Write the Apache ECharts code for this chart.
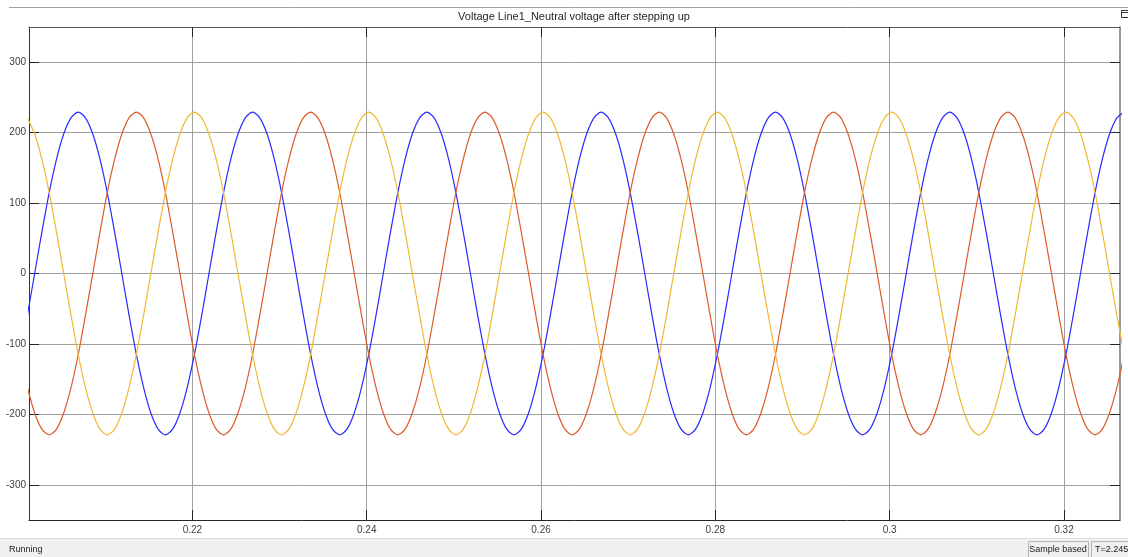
<!DOCTYPE html>
<html>
<head>
<meta charset="utf-8">
<script src="https://cdn.jsdelivr.net/npm/echarts@6/dist/echarts.min.js"></script>
<style>
html,body{margin:0;padding:0;background:#fff;}
#chart{width:1128px;height:557px;}
</style>
</head>
<body>
<div id="chart"></div>
<script>
// ---- data ----
const titleText = 'Voltage Line1_Neutral voltage after stepping up';
const xTicks = [0.22, 0.24, 0.26, 0.28, 0.3, 0.32];
const yTicks = [-300, -200, -100, 0, 100, 200, 300];

const time = [
0.20107,0.20190,0.20273,0.20357,0.20440,0.20523,0.20607,
0.20690,0.20773,0.20857,0.20940,0.21023,0.21107,0.21190,0.21273,0.21357,0.21440,0.21523,0.21607,0.21690,0.21773,0.21857,0.21940,0.22023,0.22107,0.22190,0.22273,0.22357,0.22440,0.22523,0.22607,
0.22690,0.22773,0.22857,0.22940,0.23023,0.23107,0.23190,0.23273,0.23357,0.23440,0.23523,0.23607,0.23690,0.23773,0.23857,0.23940,0.24023,0.24107,0.24190,0.24273,0.24357,0.24440,0.24523,0.24607,
0.24690,0.24773,0.24857,0.24940,0.25023,0.25107,0.25190,0.25273,0.25357,0.25440,0.25523,0.25607,0.25690,0.25773,0.25857,0.25940,0.26023,0.26107,0.26190,0.26273,0.26357,0.26440,0.26523,0.26607,
0.26690,0.26773,0.26857,0.26940,0.27023,0.27107,0.27190,0.27273,0.27357,0.27440,0.27523,0.27607,0.27690,0.27773,0.27857,0.27940,0.28023,0.28107,0.28190,0.28273,0.28357,0.28440,0.28523,0.28607,
0.28690,0.28773,0.28857,0.28940,0.29023,0.29107,0.29190,0.29273,0.29357,0.29440,0.29523,0.29607,0.29690,0.29773,0.29857,0.29940,0.30023,0.30107,0.30190,0.30273,0.30357,0.30440,0.30523,0.30607,
0.30690,0.30773,0.30857,0.30940,0.31023,0.31107,0.31190,0.31273,0.31357,0.31440,0.31523,0.31607,0.31690,0.31773,0.31857,0.31940,0.32023,0.32107,0.32190,0.32273,0.32357,0.32440,0.32523,0.32607,
0.32690
];

const phaseBlue = [
-59,0,59,115,162,198,221,
229,221,198,162,115,59,0,-59,-115,-162,-198,-221,-229,-221,-198,-162,-115,-59,0,59,115,162,198,221,
229,221,198,162,115,59,0,-59,-115,-162,-198,-221,-229,-221,-198,-162,-115,-59,0,59,115,162,198,221,
229,221,198,162,115,59,0,-59,-115,-162,-198,-221,-229,-221,-198,-162,-115,-59,0,59,115,162,198,221,
229,221,198,162,115,59,0,-59,-115,-162,-198,-221,-229,-221,-198,-162,-115,-59,0,59,115,162,198,221,
229,221,198,162,115,59,0,-59,-115,-162,-198,-221,-229,-221,-198,-162,-115,-59,0,59,115,162,198,221,
229,221,198,162,115,59,0,-59,-115,-162,-198,-221,-229,-221,-198,-162,-115,-59,0,59,115,162,198,221,
229
];

const phaseRed = [
-162,-198,-221,-229,-221,-198,-162,
-115,-59,0,59,115,162,198,221,229,221,198,162,115,59,0,-59,-115,-162,-198,-221,-229,-221,-198,-162,
-115,-59,0,59,115,162,198,221,229,221,198,162,115,59,0,-59,-115,-162,-198,-221,-229,-221,-198,-162,
-115,-59,0,59,115,162,198,221,229,221,198,162,115,59,0,-59,-115,-162,-198,-221,-229,-221,-198,-162,
-115,-59,0,59,115,162,198,221,229,221,198,162,115,59,0,-59,-115,-162,-198,-221,-229,-221,-198,-162,
-115,-59,0,59,115,162,198,221,229,221,198,162,115,59,0,-59,-115,-162,-198,-221,-229,-221,-198,-162,
-115,-59,0,59,115,162,198,221,229,221,198,162,115,59,0,-59,-115,-162,-198,-221,-229,-221,-198,-162,
-115
];

const phaseYellow = [
221,198,162,115,59,0,-59,
-115,-162,-198,-221,-229,-221,-198,-162,-115,-59,0,59,115,162,198,221,229,221,198,162,115,59,0,-59,
-115,-162,-198,-221,-229,-221,-198,-162,-115,-59,0,59,115,162,198,221,229,221,198,162,115,59,0,-59,
-115,-162,-198,-221,-229,-221,-198,-162,-115,-59,0,59,115,162,198,221,229,221,198,162,115,59,0,-59,
-115,-162,-198,-221,-229,-221,-198,-162,-115,-59,0,59,115,162,198,221,229,221,198,162,115,59,0,-59,
-115,-162,-198,-221,-229,-221,-198,-162,-115,-59,0,59,115,162,198,221,229,221,198,162,115,59,0,-59,
-115,-162,-198,-221,-229,-221,-198,-162,-115,-59,0,59,115,162,198,221,229,221,198,162,115,59,0,-59,
-115
];

// ---- chart ----
const FONT = '"Liberation Sans", Arial, sans-serif';
const pair = (vals) => time.map((t, i) => [t, vals[i]]);

const chart = echarts.init(document.getElementById('chart'), null, {renderer: 'canvas'});

const axisLabelStyle = {color: '#404040', fontSize: 10, fontFamily: FONT};
const splitLine = {show: true, lineStyle: {color: '#a0a0a0', width: 1}};

chart.setOption({
  animation: false,
  backgroundColor: '#ffffff',
  grid: {left: 29, right: 8, top: 27, bottom: 37, containLabel: false},
  xAxis: [
    {
      type: 'value', min: 0.20125, max: 0.32643, position: 'bottom',
      axisLine: {show: true, onZero: false, lineStyle: {color: '#262626', width: 1}},
      axisTick: {show: true, inside: true, length: 10, customValues: xTicks, lineStyle: {color: '#262626'}},
      axisLabel: {show: true, customValues: xTicks, margin: 5, ...axisLabelStyle},
      splitLine: splitLine
    },
    {
      type: 'value', min: 0.20125, max: 0.32643, position: 'top',
      axisLine: {show: true, onZero: false, lineStyle: {color: '#555555', width: 1}},
      axisTick: {show: true, inside: true, length: 10, customValues: xTicks, lineStyle: {color: '#262626'}},
      axisLabel: {show: false},
      splitLine: {show: false}
    }
  ],
  yAxis: [
    {
      type: 'value', min: -350, max: 350, position: 'left',
      axisLine: {show: true, onZero: false, lineStyle: {color: '#333333', width: 1}},
      axisTick: {show: true, inside: true, length: 10, customValues: yTicks, lineStyle: {color: '#262626'}},
      axisLabel: {show: true, customValues: yTicks, margin: 3, ...axisLabelStyle},
      splitLine: splitLine
    },
    {
      type: 'value', min: -350, max: 350, position: 'right',
      axisLine: {show: true, onZero: false, lineStyle: {color: '#777777', width: 1.5}},
      axisTick: {show: true, inside: true, length: 10, customValues: yTicks, lineStyle: {color: '#262626'}},
      axisLabel: {show: false},
      splitLine: {show: false}
    }
  ],
  series: [
    {name: 'A', type: 'line', data: pair(phaseBlue), showSymbol: false, smooth: 0.3, clip: true,
     lineStyle: {color: '#2a2aff', width: 1.2}, itemStyle: {color: '#2a2aff'}},
    {name: 'B', type: 'line', data: pair(phaseRed), showSymbol: false, smooth: 0.3, clip: true,
     lineStyle: {color: '#dc5a2a', width: 1.2}, itemStyle: {color: '#dc5a2a'}},
    {name: 'C', type: 'line', data: pair(phaseYellow), showSymbol: false, smooth: 0.3, clip: true,
     lineStyle: {color: '#f2b833', width: 1.2}, itemStyle: {color: '#f2b833'}}
  ],
  graphic: [
    {type: 'line', shape: {x1: 9, y1: 7.5, x2: 1128, y2: 7.5}, style: {stroke: '#a0a0a0', lineWidth: 1}, silent: true},
    {type: 'text', x: 574, y: 17, style: {text: titleText, fill: '#262626', font: '11px ' + FONT, textAlign: 'center', textVerticalAlign: 'middle'}},
    {type: 'rect', shape: {x: 1121.5, y: 10.5, width: 8, height: 7}, style: {fill: '#ffffff', stroke: '#333333', lineWidth: 1}},
    {type: 'line', shape: {x1: 1121.5, y1: 12.5, x2: 1128, y2: 12.5}, style: {stroke: '#333333', lineWidth: 1}},
    {type: 'rect', shape: {x: 0, y: 538, width: 1128, height: 19}, style: {fill: '#f0f0f0'}},
    {type: 'line', shape: {x1: 0, y1: 538.5, x2: 1128, y2: 538.5}, style: {stroke: '#dcdcdc', lineWidth: 1}},
    {type: 'text', x: 9, y: 550, style: {text: 'Running', fill: '#1a1a1a', font: '9px ' + FONT, textVerticalAlign: 'middle'}},
    {type: 'rect', shape: {x: 1028.5, y: 541.5, width: 60, height: 17}, style: {fill: 'none', stroke: '#b4b4b4', lineWidth: 1}},
    {type: 'text', x: 1058, y: 550, style: {text: 'Sample based', fill: '#1a1a1a', font: '9px ' + FONT, textAlign: 'center', textVerticalAlign: 'middle'}},
    {type: 'rect', shape: {x: 1091.5, y: 541.5, width: 40, height: 17}, style: {fill: 'none', stroke: '#b4b4b4', lineWidth: 1}},
    {type: 'text', x: 1095, y: 550, style: {text: 'T=2.245', fill: '#1a1a1a', font: '9px ' + FONT, textVerticalAlign: 'middle'}}
  ]
});
</script>
</body>
</html>
